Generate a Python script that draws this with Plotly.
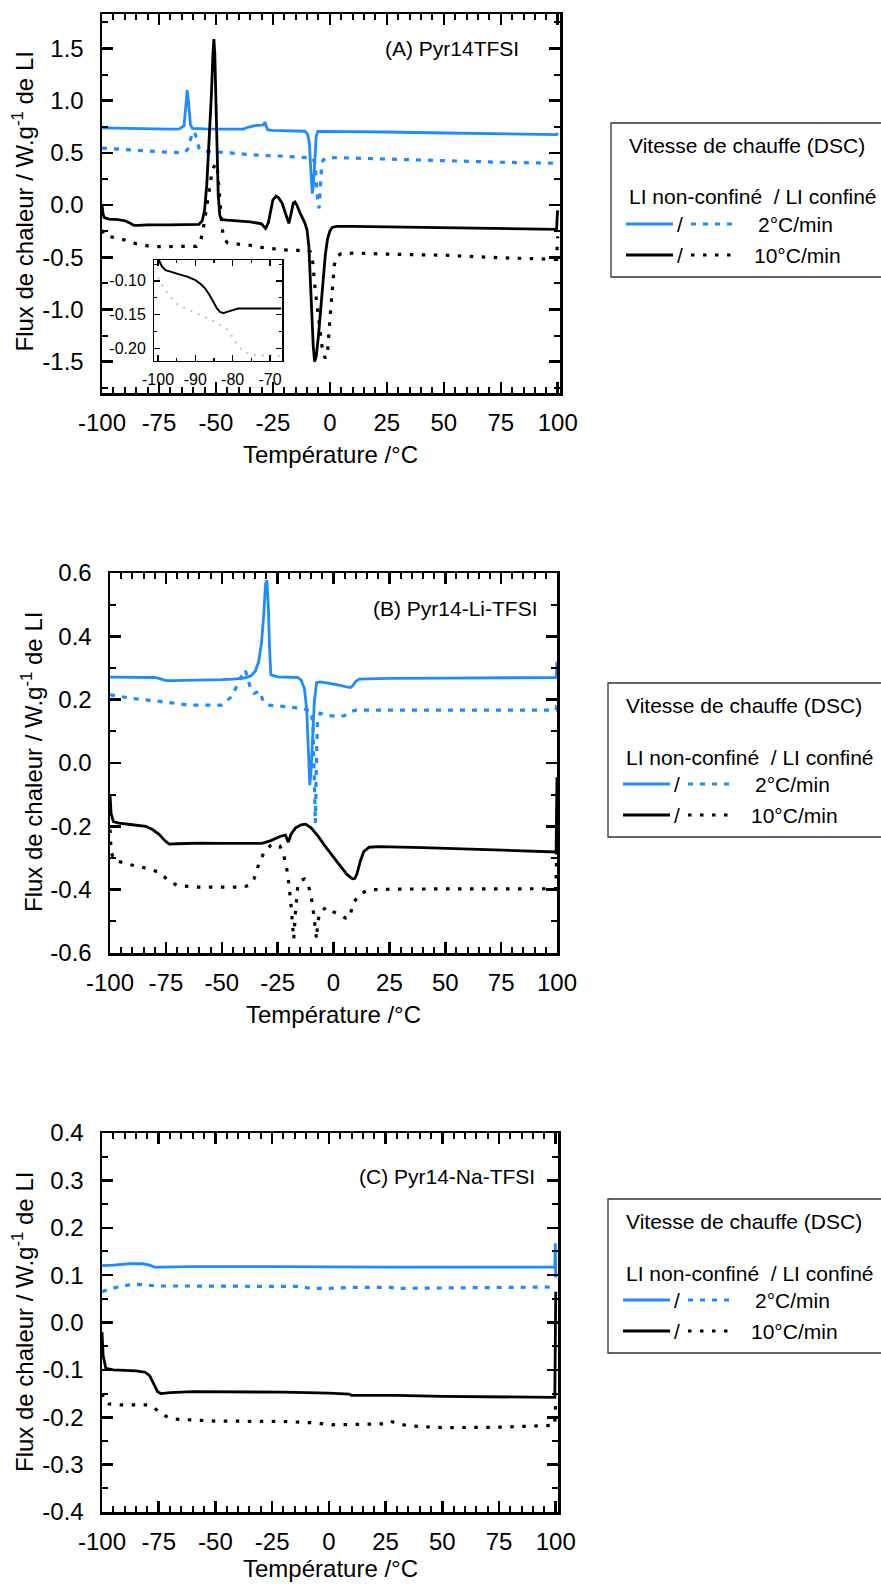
import plotly.graph_objects as go

W, H = 881, 1584
BLUE = '#1E8CFF'
BLACK = '#000000'
GRAY = '#c4c4c4'
FONT = 'Liberation Sans, Arial, sans-serif'

# ---------------- data ----------------
# Panel A : Pyr14TFSI
a_blue_solid_x = [-100, -90, -80, -70, -66, -64, -63.2, -62.6, -62.0, -61.2, -60.3, -55, -45, -38, -36, -33, -30, -29, -28.5, -28, -27.3, -25, -15, -11, -9.8, -9, -8.4, -8, -7.7, -7.2, -6.6, -6, -5.3, 0, 25, 50, 75, 99.5, 100]
a_blue_solid_y = [0.74, 0.735, 0.73, 0.728, 0.73, 0.76, 0.95, 1.10, 0.98, 0.77, 0.735, 0.73, 0.728, 0.728, 0.745, 0.76, 0.765, 0.77, 0.795, 0.77, 0.72, 0.715, 0.71, 0.707, 0.68, 0.6, 0.35, 0.15, 0.11, 0.2, 0.45, 0.66, 0.705, 0.705, 0.70, 0.69, 0.683, 0.675, 0.69]

a_blue_dot_x = [-100, -90, -80, -70, -64, -62.5, -61.5, -60.5, -59.5, -58.5, -57.5, -56, -50, -40, -30, -20, -12, -7.5, -6.5, -5.8, -5.2, -4.7, -4.2, -3.6, -3, -1, 10, 25, 50, 75, 100]
a_blue_dot_y = [0.545, 0.53, 0.515, 0.505, 0.5, 0.53, 0.6, 0.68, 0.705, 0.64, 0.55, 0.515, 0.51, 0.49, 0.475, 0.468, 0.46, 0.45, 0.40, 0.2, 0.0, -0.03, 0.15, 0.38, 0.43, 0.455, 0.45, 0.44, 0.425, 0.41, 0.40]

a_black_solid_x = [-100, -99.5, -99, -97, -93, -90, -88, -86, -84, -80, -70, -60, -57.5, -56, -55, -54, -53, -52, -51.3, -50.9, -50.5, -50, -49.5, -49, -48.3, -47.5, -45, -40, -35, -30, -28.2, -27, -26, -25, -23.6, -22.5, -21, -19.5, -18, -17, -16, -15.3, -14.5, -13, -11, -10, -9.2, -8.6, -8, -7.3, -6.7, -6, -5, -4, -3, -2, -1, 0, 1, 3, 10, 30, 50, 75, 99.5, 99.8, 100]
a_black_solid_y = [0.0, -0.09, -0.12, -0.135, -0.14, -0.15, -0.17, -0.195, -0.195, -0.19, -0.19, -0.19, -0.185, -0.15, -0.05, 0.2, 0.6, 1.05, 1.45, 1.59, 1.45, 1.05, 0.55, 0.1, -0.1, -0.14, -0.145, -0.15, -0.16, -0.18, -0.225, -0.17, -0.04, 0.05, 0.085, 0.07, 0.02, -0.07, -0.175, -0.08, 0.02, 0.03, 0.0, -0.08, -0.17, -0.24, -0.4, -0.7, -1.05, -1.35, -1.5, -1.45, -1.25, -1.0, -0.72, -0.48, -0.32, -0.25, -0.215, -0.205, -0.205, -0.21, -0.215, -0.222, -0.232, -0.1, -0.05]

a_black_dot_x = [-100, -99, -95, -90, -85, -80, -75, -65, -58.5, -57, -56, -55, -54, -53, -52, -51, -50, -49.3, -48.7, -48, -47.3, -46.5, -45, -40, -35, -30, -25, -20, -15, -9.5, -8.5, -7.5, -6.5, -5.5, -4.5, -3.2, -2, -1, 0, 1, 2, 3, 5, 12, 25, 50, 75, 99.5, 99.8, 100]
a_black_dot_y = [-0.24, -0.29, -0.31, -0.335, -0.37, -0.39, -0.398, -0.4, -0.395, -0.36, -0.28, -0.15, 0.0, 0.15, 0.28, 0.36, 0.40, 0.33, 0.15, -0.05, -0.22, -0.32, -0.36, -0.375, -0.385, -0.405, -0.42, -0.43, -0.435, -0.43, -0.45, -0.55, -0.8, -1.0, -1.2, -1.4, -1.47, -1.4, -1.1, -0.8, -0.57, -0.49, -0.465, -0.46, -0.47, -0.48, -0.505, -0.52, -0.42, -0.3]

# Inset of panel A (zoom on the glass transition)
inset_black_x = [-99.8, -99, -98, -96.5, -94.5, -92, -90, -88.5, -87.4, -86.2, -85.2, -84.2, -83.4, -82.5, -81.5, -80, -78.5, -75, -70, -67]
inset_black_y = [-0.069, -0.078, -0.084, -0.087, -0.090, -0.094, -0.099, -0.105, -0.111, -0.121, -0.131, -0.141, -0.146, -0.148, -0.146, -0.143, -0.141, -0.141, -0.141, -0.141]
inset_gray_x = [-100, -99.5, -97.5, -95.4, -92, -88.3, -85, -81.2, -78.5, -76.5, -74.9, -72, -68.7, -67]
inset_gray_y = [-0.095, -0.101, -0.118, -0.133, -0.143, -0.151, -0.16, -0.173, -0.198, -0.206, -0.21, -0.211, -0.212, -0.212]

# Panel B : Pyr14-Li-TFSI
b_blue_solid_x = [-100, -90, -80, -77, -75, -72, -60, -50, -45, -40, -37, -35, -33.5, -32.2, -31.2, -30.4, -29.8, -29.2, -28.6, -28, -25, -20, -16, -14.5, -13, -12, -11.3, -10.6, -10, -9.3, -8.6, -7.6, -6, -3, 0, 3, 6, 7.5, 8.5, 10, 11.5, 15, 25, 50, 75, 99.6, 99.8, 100]
b_blue_solid_y = [0.271, 0.271, 0.27, 0.265, 0.26, 0.26, 0.261, 0.263, 0.265, 0.268, 0.275, 0.29, 0.32, 0.38, 0.47, 0.565, 0.577, 0.5, 0.36, 0.278, 0.272, 0.272, 0.27, 0.262, 0.235, 0.17, 0.07, -0.07, -0.02, 0.07, 0.19, 0.254, 0.256, 0.253, 0.25, 0.245, 0.24, 0.238, 0.243, 0.258, 0.265, 0.266, 0.267, 0.268, 0.269, 0.27, 0.3, 0.32]

b_blue_dot_x = [-100, -90, -77, -65, -50, -45.5, -42, -40.5, -39.5, -38.5, -37.5, -35.5, -33, -31.5, -29.5, -20, -14, -10, -9.2, -8.8, -8.4, -8.1, -7.8, -7.2, -6, -2, 2.5, 5, 7.5, 10, 25, 50, 75, 99.6, 100]
b_blue_dot_y = [0.215, 0.204, 0.194, 0.183, 0.183, 0.21, 0.262, 0.285, 0.294, 0.27, 0.245, 0.22, 0.227, 0.195, 0.183, 0.177, 0.172, 0.165, 0.12, 0.0, -0.15, -0.19, -0.05, 0.13, 0.157, 0.15, 0.146, 0.15, 0.162, 0.167, 0.167, 0.167, 0.167, 0.167, 0.19]

b_black_solid_x = [-100, -99.5, -98.5, -96, -90, -84, -81, -78, -75.5, -73.5, -70, -60, -50, -40, -32, -28, -24, -21.5, -20.2, -19, -17, -14.5, -12.5, -10, -7, -4, 0, 3, 6, 8.5, 9.5, 10.5, 12, 13.5, 16, 20, 40, 60, 80, 99.6, 99.8, 100]
b_black_solid_y = [-0.1, -0.16, -0.185, -0.19, -0.195, -0.2, -0.21, -0.225, -0.245, -0.256, -0.255, -0.253, -0.254, -0.255, -0.254, -0.245, -0.232, -0.228, -0.25, -0.225, -0.205, -0.195, -0.193, -0.205, -0.23, -0.26, -0.295, -0.325, -0.352, -0.366, -0.365, -0.35, -0.31, -0.28, -0.266, -0.264, -0.267, -0.271, -0.275, -0.281, -0.15, -0.045]

b_black_dot_x = [-100, -99.5, -98.3, -93, -85, -78, -74, -70, -61, -50, -40, -37.5, -35.5, -33, -30.5, -28, -26, -24, -22.5, -21, -20, -19, -18.3, -17.8, -17, -16, -14.5, -13, -11.5, -10, -9, -8.2, -7.6, -7, -6, -3, 0, 3, 5.5, 7, 9, 12, 16, 30, 60, 99.5, 99.8, 100]
b_black_dot_y = [-0.21, -0.28, -0.305, -0.318, -0.33, -0.345, -0.37, -0.387, -0.392, -0.392, -0.392, -0.385, -0.365, -0.31, -0.275, -0.26, -0.255, -0.262, -0.285, -0.33, -0.38, -0.45, -0.52, -0.556, -0.47, -0.39, -0.37, -0.366, -0.38, -0.42, -0.47, -0.53, -0.556, -0.5, -0.47, -0.455, -0.47, -0.48, -0.49, -0.49, -0.44, -0.413, -0.4, -0.398, -0.397, -0.397, -0.3, -0.2]

# Panel C : Pyr14-Na-TFSI
c_blue_solid_x = [-100, -95, -88, -82, -79, -77, -75, -60, -25, 0, 25, 50, 75, 99.6, 99.8, 100]
c_blue_solid_y = [0.12, 0.121, 0.124, 0.124, 0.121, 0.117, 0.117, 0.118, 0.118, 0.117, 0.117, 0.117, 0.117, 0.117, 0.167, 0.095]

c_blue_dot_x = [-100, -97, -92, -86, -82, -76, -60, -40, -20, -13, -8, 0, 10, 20, 27, 30, 50, 75, 100]
c_blue_dot_y = [0.065, 0.07, 0.076, 0.081, 0.08, 0.077, 0.077, 0.077, 0.077, 0.076, 0.072, 0.072, 0.074, 0.074, 0.074, 0.072, 0.073, 0.074, 0.075]

c_black_solid_x = [-100, -99.5, -98.3, -95, -85, -81, -79, -77, -75.5, -74, -70, -60, -40, -20, 0, 9, 10, 30, 50, 70, 90, 99.6, 99.8, 100]
c_black_solid_y = [-0.02, -0.07, -0.097, -0.1, -0.102, -0.105, -0.112, -0.13, -0.146, -0.15, -0.148, -0.146, -0.146, -0.147, -0.149, -0.151, -0.154, -0.154, -0.156, -0.157, -0.158, -0.158, -0.05, 0.065]

c_black_dot_x = [-100, -99, -97, -92, -80, -77, -74, -71, -68, -50, -20, -5, 0, 10, 24, 27, 30, 35, 50, 75, 99.5, 100]
c_black_dot_y = [-0.15, -0.165, -0.172, -0.174, -0.174, -0.18, -0.192, -0.2, -0.204, -0.208, -0.209, -0.212, -0.216, -0.215, -0.214, -0.208, -0.213, -0.218, -0.222, -0.221, -0.217, -0.17]

# Tick labels
x_ticks = [-100, -75, -50, -25, 0, 25, 50, 75, 100]
x_tick_text = ['-100', '-75', '-50', '-25', '0', '25', '50', '75', '100']
a_y_ticks = [-1.5, -1.0, -0.5, 0.0, 0.5, 1.0, 1.5]
a_y_text = ['-1.5', '-1.0', '-0.5', '0.0', '0.5', '1.0', '1.5']
b_y_ticks = [-0.6, -0.4, -0.2, 0.0, 0.2, 0.4, 0.6]
b_y_text = ['-0.6', '-0.4', '-0.2', '0.0', '0.2', '0.4', '0.6']
c_y_ticks = [-0.4, -0.3, -0.2, -0.1, 0.0, 0.1, 0.2, 0.3, 0.4]
c_y_text = ['-0.4', '-0.3', '-0.2', '-0.1', '0.0', '0.1', '0.2', '0.3', '0.4']
inset_x_ticks = [-100, -90, -80, -70]
inset_x_text = ['-100', '-90', '-80', '-70']
inset_y_ticks = [-0.20, -0.15, -0.10]
inset_y_text = ['-0.20', '-0.15', '-0.10']

panel_labels = ['(A) Pyr14TFSI', '(B) Pyr14-Li-TFSI', '(C) Pyr14-Na-TFSI']
x_title = 'Température /°C'
y_title = 'Flux de chaleur / W.g<sup>-1</sup> de LI'
legend_title = 'Vitesse de chauffe (DSC)'
legend_header = 'LI non-confiné\u00a0 / LI confiné'
legend_rates = ['2°C/min', '10°C/min']

# ---------------- helpers ----------------
def px(x):
    return x / W


def py(y):
    return 1 - y / H


SOLID_W = 2.8
DOT_W = 3.2
BLUE_DASH = '5px,7px'
BLACK_DASH = '3.5px,8.5px'

fig = go.Figure()


def add(xs, ys, color, dotted, xa, ya, width=None, dash=None):
    if width is None:
        width = DOT_W if dotted else SOLID_W
    if dash is None:
        dash = (BLUE_DASH if color == BLUE else BLACK_DASH) if dotted else 'solid'
    fig.add_trace(go.Scatter(x=xs, y=ys, mode='lines', xaxis=xa, yaxis=ya,
                             line=dict(color=color, width=width, dash=dash),
                             showlegend=False, hoverinfo='skip'))


add(a_blue_dot_x, a_blue_dot_y, BLUE, True, 'x', 'y')
add(a_black_dot_x, a_black_dot_y, BLACK, True, 'x', 'y')
add(a_blue_solid_x, a_blue_solid_y, BLUE, False, 'x', 'y')
add(a_black_solid_x, a_black_solid_y, BLACK, False, 'x', 'y')

add(b_blue_dot_x, b_blue_dot_y, BLUE, True, 'x2', 'y2')
add(b_black_dot_x, b_black_dot_y, BLACK, True, 'x2', 'y2')
add(b_blue_solid_x, b_blue_solid_y, BLUE, False, 'x2', 'y2')
add(b_black_solid_x, b_black_solid_y, BLACK, False, 'x2', 'y2')

add(c_blue_dot_x, c_blue_dot_y, BLUE, True, 'x3', 'y3')
add(c_black_dot_x, c_black_dot_y, BLACK, True, 'x3', 'y3')
add(c_blue_solid_x, c_blue_solid_y, BLUE, False, 'x3', 'y3')
add(c_black_solid_x, c_black_solid_y, BLACK, False, 'x3', 'y3')

add(inset_gray_x, inset_gray_y, GRAY, True, 'x4', 'y4', width=2, dash='2px,6px')
add(inset_black_x, inset_black_y, BLACK, False, 'x4', 'y4', width=2)


def axis(domain, rng, vals, text, minor_dtick, minor_tick0, anchor, size=24,
         standoff=6, lw=2.5, tl=11, mtl=6):
    return dict(domain=domain, range=rng, anchor=anchor, automargin=False,
                tickmode='array', tickvals=vals, ticktext=text,
                showline=True, linewidth=lw, linecolor='black', mirror='allticks',
                ticks='inside', ticklen=tl, tickwidth=lw, tickcolor='black',
                showgrid=False, zeroline=False, fixedrange=True,
                ticklabelstandoff=standoff,
                tickfont=dict(family=FONT, size=size, color='black'),
                minor=dict(tickmode='linear', tick0=minor_tick0, dtick=minor_dtick,
                           ticks='inside', ticklen=mtl, tickwidth=lw * 0.8,
                           tickcolor='black', showgrid=False))


# axes domains (pixel positions measured on the reference)
fig.update_layout(
    xaxis=axis([px(102), px(560)], [-100, 101], x_ticks, x_tick_text, 5, -100, 'y', standoff=7),
    yaxis=axis([py(393), py(14)], [-1.8, 1.83], a_y_ticks, a_y_text, 0.25, -1.5, 'x', standoff=11),
    xaxis2=axis([px(110), px(557)], [-100, 100], x_ticks, x_tick_text, 5, -100, 'y2', standoff=7),
    yaxis2=axis([py(953), py(573)], [-0.6, 0.6], b_y_ticks, b_y_text, 0.1, -0.6, 'x2', standoff=11),
    xaxis3=axis([px(102), px(558)], [-100, 101], x_ticks, x_tick_text, 5, -100, 'y3', standoff=7),
    yaxis3=axis([py(1512), py(1133)], [-0.4, 0.4], c_y_ticks, c_y_text, 0.05, -0.4, 'x3', standoff=11),
    xaxis4=axis([px(154.3), px(282.3)], [-101, -66.7], inset_x_ticks, inset_x_text, 5, -100, 'y4',
                size=16, standoff=3, lw=1.3, tl=6, mtl=3),
    yaxis4=axis([py(361), py(260)], [-0.219, -0.069], inset_y_ticks, inset_y_text, 0.025, -0.2, 'x4',
                size=16, standoff=4, lw=1.3, tl=6, mtl=3),
)

annotations = []
shapes = []


def text(x, y, s, size, xanchor='center', angle=0):
    annotations.append(dict(x=px(x), y=py(y), xref='paper', yref='paper', text=s,
                            showarrow=False, xanchor=xanchor, yanchor='middle',
                            textangle=angle,
                            font=dict(family=FONT, size=size, color='black')))


# axis titles
for (xc, yc) in [(330, 455), (333, 1014), (330, 1568)]:
    text(xc, yc, x_title, 24)
for (xc, yc) in [(22.5, 202), (32, 762), (23, 1322)]:
    text(xc, yc, y_title, 24, angle=-90)

# panel labels
for (xr, yc), lab in zip([(521, 49), (539.5, 608), (537, 1176)], panel_labels):
    text(xr, yc, lab, 21, xanchor='right')

# legends (boxes partly cut by the right edge of the figure)
for (L, T) in [(611, 123), (608, 683), (608, 1199)]:
    shapes.append(dict(type='rect', xref='paper', yref='paper', x0=px(L), x1=px(L + 300),
                       y0=py(T + 154), y1=py(T), line=dict(color='#333333', width=1.3),
                       fillcolor='rgba(0,0,0,0)'))
    text(L + 16, T + 22, legend_title, 21, xanchor='left')
    text(L + 16, T + 74, legend_header, 21, xanchor='left')
    for k, (col, dash) in enumerate([(BLUE, BLUE_DASH), (BLACK, BLACK_DASH)]):
        yy = T + 101 + 31 * k
        shapes.append(dict(type='line', xref='paper', yref='paper', x0=px(L + 15), x1=px(L + 62),
                           y0=py(yy), y1=py(yy), line=dict(color=col, width=SOLID_W)))
        shapes.append(dict(type='line', xref='paper', yref='paper', x0=px(L + 80), x1=px(L + 122),
                           y0=py(yy), y1=py(yy), line=dict(color=col, width=DOT_W, dash=dash)))
        text(L + 69, yy, '/', 21)
        text(L + (145 if k == 0 else 141), yy, legend_rates[k], 21, xanchor='left')

fig.update_layout(width=W, height=H, margin=dict(l=0, r=0, t=0, b=0, pad=0, autoexpand=False),
                  paper_bgcolor='white', plot_bgcolor='white',
                  annotations=annotations, shapes=shapes, showlegend=False)

fig.write_html('out.html', config={'displayModeBar': False, 'staticPlot': True},
               post_script="document.body.style.margin='0px';")
